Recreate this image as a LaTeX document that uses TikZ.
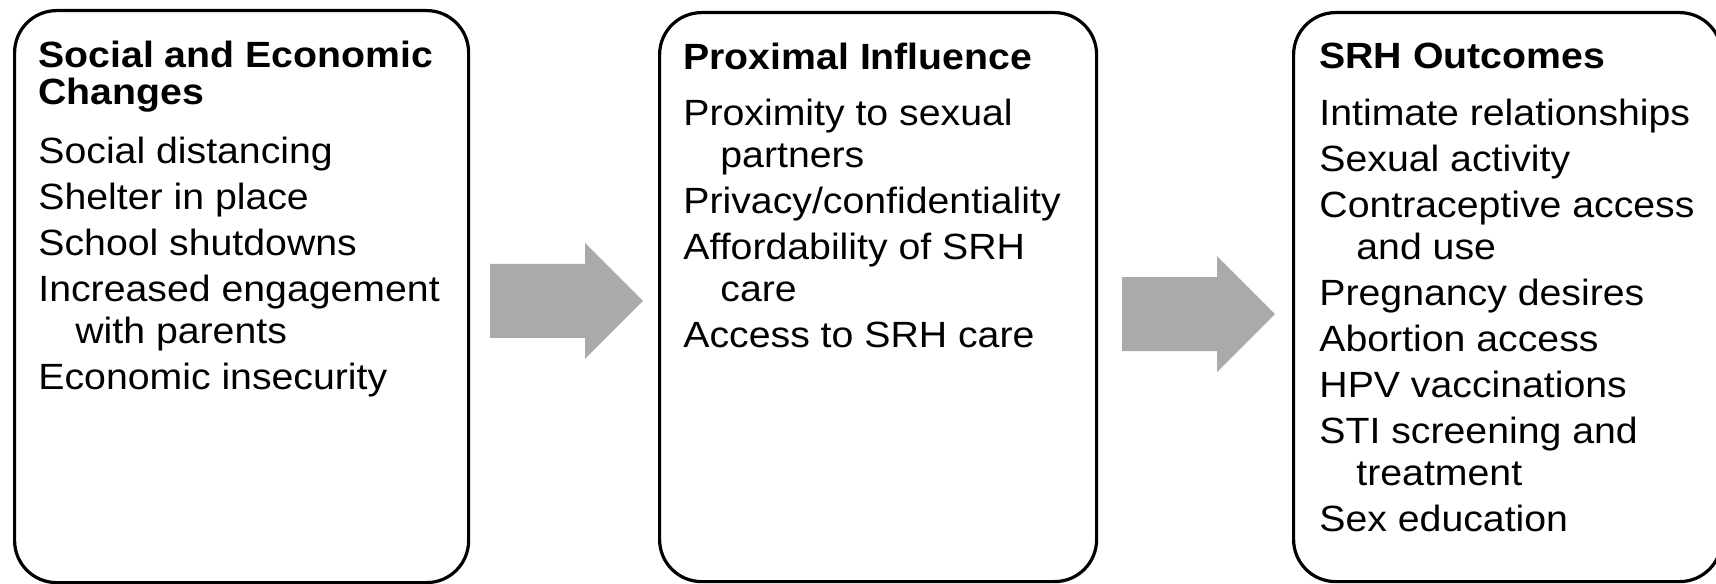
\documentclass[tikz,border=0pt]{standalone}
\usepackage{fontspec}
\setmainfont{Liberation Sans}[FakeStretch=1.075]
\usepackage{xcolor}
\usepackage{tikz}
\usetikzlibrary{positioning,calc,shapes.arrows}

\definecolor{arrowgray}{RGB}{170,170,170}
% indent of a wrapped item line
\newcommand{\wrapind}{\hspace*{18.5pt}}

\begin{document}
\begin{tikzpicture}[
    x=1pt, y=1pt,
    % the three rounded panels
    panel/.style={draw, line width=1.6pt, rounded corners=21pt,
      anchor=north west, minimum width=218.5pt, minimum height=284.5pt},
    headtext/.style={inner sep=0pt, align=left,
      font=\bfseries\fontsize{18.25}{18.5}\selectfont},
    listtext/.style={inner sep=0pt, align=left,
      font=\fontsize{18.25}{21}\selectfont},
    % grey block arrows between the panels
    blockarrow/.style={single arrow, fill=arrowgray, draw=none,
      inner sep=18.25pt, single arrow head extend=10.5pt,
      minimum height=76.5pt},
  ]
  \useasboundingbox (0,0) rectangle (858,-291.5);

  \node[panel, minimum width=227pt, minimum height=286pt] (social) at (6.5,-4.5) {};
  \node[panel] (proximal) at (329,-5.5) {};
  \node[panel, minimum width=214pt] (outcomes) at (646,-5.5) {};

  \node[headtext, below right=16pt and 12.5pt of social.north west] (socialhead)
    {Social and Economic\\Changes};
  \node[listtext, below right=64pt and 12.5pt of social.north west] (sociallist)
    {Social distancing\\[2pt]
     Shelter in place\\[2pt]
     School shutdowns\\[2pt]
     Increased engagement\\\wrapind with parents\\[2pt]
     Economic insecurity};

  \node[headtext, below right=16pt and 12.5pt of proximal.north west] (proximalhead)
    {Proximal Influence};
  \node[listtext, below right=44pt and 12.5pt of proximal.north west] (proximallist)
    {Proximity to sexual\\\wrapind partners\\[2pt]
     Privacy/confidentiality\\[2pt]
     Affordability of SRH\\\wrapind care\\[2pt]
     Access to SRH care};

  \node[headtext, below right=16pt and 13.5pt of outcomes.north west] (outcomeshead)
    {SRH Outcomes};
  \node[listtext, below right=44pt and 13.5pt of outcomes.north west] (outcomeslist)
    {Intimate relationships\\[2pt]
     Sexual activity\\[2pt]
     Contraceptive access\\\wrapind and use\\[2pt]
     Pregnancy desires\\[2pt]
     Abortion access\\[2pt]
     HPV vaccinations\\[2pt]
     STI screening and\\\wrapind treatment\\[2pt]
     Sex education};

  % arrows sit in the gaps between the panels
  \node[blockarrow, xshift=-8pt, yshift=-2pt] (arrowone)
    at ($(social.east)!0.5!(proximal.west)$) {};
  \node[blockarrow, xshift=-7.5pt, yshift=-8.5pt] (arrowtwo)
    at ($(proximal.east)!0.5!(outcomes.west)$) {};
\end{tikzpicture}
\end{document}
